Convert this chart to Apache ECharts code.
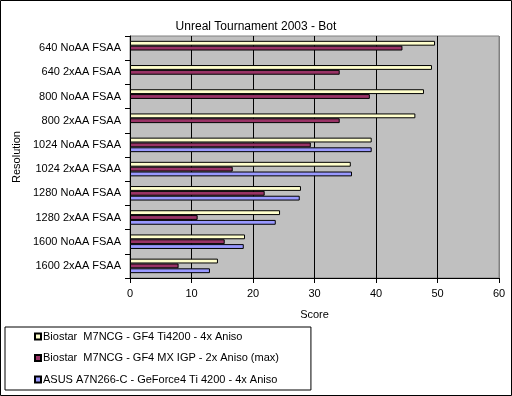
<!DOCTYPE html>
<html>
<head>
<meta charset="utf-8">
<script src="https://cdn.jsdelivr.net/npm/echarts@6/dist/echarts.min.js"></script>
<style>
    html, body { margin: 0; padding: 0; background: #fff; }
    #chart { width: 512px; height: 396px; }
</style>
</head>
<body>
<div id="chart"></div>
<script>
const categories = [
    "640 NoAA FSAA", "640 2xAA FSAA", "800 NoAA FSAA", "800 2xAA FSAA",
    "1024 NoAA FSAA", "1024 2xAA FSAA", "1280 NoAA FSAA", "1280 2xAA FSAA",
    "1600 NoAA FSAA", "1600 2xAA FSAA"
];
const seriesNames = [
    "Biostar  M7NCG - GF4 Ti4200 - 4x Aniso",
    "Biostar  M7NCG - GF4 MX IGP - 2x Aniso (max)",
    "ASUS A7N266-C - GeForce4 Ti 4200 - 4x Aniso"
];
const ti4200 = [49.6, 49.1, 47.8, 46.4, 39.3, 35.9, 27.8, 24.4, 18.7, 14.3];
const mxIgp = [44.3, 34.1, 39.0, 34.1, 29.4, 16.7, 21.9, 11.0, 15.4, 7.9];
const asus = [null, null, null, null, 39.3, 36.1, 27.6, 23.7, 18.5, 13.0];
const scoreTicks = [0, 10, 20, 30, 40, 50, 60];

const font = "Liberation Sans, Arial, sans-serif";
const colors = ["#ffffcc", "#993366", "#9999ff"];
const values = [ti4200, mxIgp, asus];

let chart = echarts.init(document.getElementById("chart"));
chart.setOption({
    animation: false,
    textStyle: { fontFamily: font, color: "#000" },
    title: {
        text: "Unreal Tournament 2003 - Bot",
        left: "center",
        top: 16,
        textStyle: { fontFamily: font, fontSize: 12, fontWeight: "normal", color: "#000" },
    },
    graphic: [{
        type: "rect",
        shape: { x: 0.5, y: 0.5, width: 511, height: 395 },
        style: { fill: "none", stroke: "#000", lineWidth: 1 },
        silent: true,
    }],
    legend: {
        orient: "vertical",
        left: 5,
        top: 327,
        padding: [3, 32, 4, 29],
        borderColor: "#000",
        borderWidth: 1,
        itemWidth: 6,
        itemHeight: 6,
        itemGap: 8.5,
        icon: "rect",
        data: seriesNames,
        textStyle: { fontFamily: font, fontSize: 11, color: "#000", lineHeight: 13, padding: [0, 0, 0, -3] },
    },
    grid: {
        left: 130,
        top: 36,
        width: 369,
        height: 242,
        show: true,
        backgroundColor: "#c0c0c0",
        borderColor: "#808080",
        borderWidth: 1,
    },
    xAxis: {
        type: "value",
        min: scoreTicks[0],
        max: scoreTicks[scoreTicks.length - 1],
        interval: 10,
        name: "Score",
        nameLocation: "middle",
        nameGap: 31,
        nameTextStyle: { fontFamily: font, fontSize: 11, color: "#000" },
        axisLine: { show: true, lineStyle: { color: "#000", width: 1 } },
        axisTick: { show: true, length: 5, lineStyle: { color: "#000" } },
        axisLabel: { fontFamily: font, fontSize: 11, color: "#000", margin: 10 },
        splitLine: {
            show: true,
            lineStyle: { color: ["#000", "#000", "#000", "#000", "#000", "#000", "#808080"], width: 1 },
        },
    },
    yAxis: {
        type: "category",
        inverse: true,
        data: categories,
        name: "Resolution",
        nameLocation: "middle",
        nameRotate: 90,
        nameGap: 104,
        nameTextStyle: { fontFamily: font, fontSize: 11, color: "#000" },
        axisLine: { show: true, lineStyle: { color: "#000", width: 1 } },
        axisTick: { show: true, length: 5, interval: 0, lineStyle: { color: "#000" } },
        axisLabel: { fontFamily: font, fontSize: 11, color: "#000", margin: 9, interval: 0 },
        splitLine: { show: false },
    },
    series: seriesNames.map((name, i) => ({
        name: name,
        type: "bar",
        data: values[i],
        barGap: "0%",
        barCategoryGap: "40%",
        itemStyle: { color: colors[i], borderColor: "#000", borderWidth: 1 },
    })),
});
</script>
</body>
</html>
